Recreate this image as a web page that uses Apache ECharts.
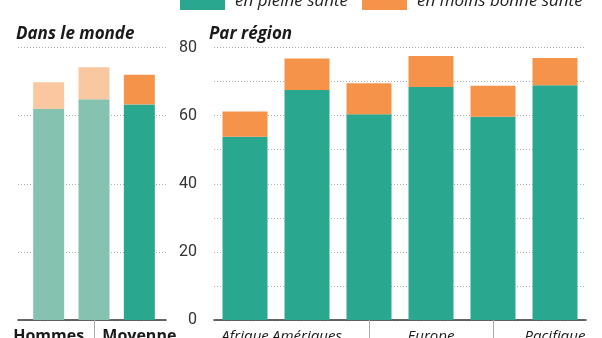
<!DOCTYPE html>
<html>
<head>
<meta charset="utf-8">
<script src="https://cdn.jsdelivr.net/npm/echarts@6/dist/echarts.min.js"></script>
<style>
html,body{margin:0;padding:0;background:#fff;}
#chart{width:602px;height:338px;}
</style>
</head>
<body>
<div id="chart"></div>
<script>
// Data (years of life)
const worldCategories = ['Hommes', 'Femmes', 'Moyenne'];
const worldHealthy = [62.0, 64.8, 63.3];
const worldLessHealthy = [7.8, 9.4, 8.7];

const regionCategories = ['Afrique', 'Amériques', 'Asie du Sud-Est', 'Europe', 'Méditerranée orientale', 'Pacifique\noccidental'];
const regionHealthy = [53.8, 67.5, 60.4, 68.4, 59.7, 68.9];
const regionLessHealthy = [7.4, 9.3, 9.1, 9.1, 9.1, 8.0];

const yTickLabels = [0, 20, 40, 60, 80];
const legendNames = ['en pleine santé', 'en moins bonne santé'];
const titles = ['Dans le monde', 'Par région'];

const GREEN = '#2aa78f', ORANGE = '#f6934a';
const GREEN_LIGHT = '#85c3b0', ORANGE_LIGHT = '#f9c8a0';
const FONT = 'Open Sans';
const fadedIdx = [0, 1];
const staggerWorld = [1];
const staggerRegion = [2, 4];

const chart = echarts.init(document.getElementById('chart'), null, {renderer: 'canvas'});
const dotted = {show: true, lineStyle: {color: '#b0b0b0', type: [1, 2], width: 1}};
const gridBase = {top: 47.5, height: 272.5, containLabel: false, outerBoundsMode: 'none'};

const option = {
  animation: false,
  title: [
    {text: titles[0], left: 16, top: 26, padding: 0, textStyle: {fontFamily: FONT, fontSize: 17, fontWeight: 'bold', fontStyle: 'italic', color: '#1a1a1a'}},
    {text: titles[1], left: 209, top: 26, padding: 0, textStyle: {fontFamily: FONT, fontSize: 17, fontWeight: 'bold', fontStyle: 'italic', color: '#1a1a1a'}}
  ],
  legend: {
    left: 180, top: -8, padding: 0, width: 422, itemWidth: 45, itemHeight: 18, itemGap: 14, icon: 'rect',
    data: legendNames,
    textStyle: {fontFamily: FONT, fontSize: 17, fontStyle: 'italic', color: '#222', padding: [0, 0, 0, 5]}
  },
  grid: [
    Object.assign({left: 26, width: 136}, gridBase),
    Object.assign({left: 214, width: 372}, gridBase),
    Object.assign({left: 18, width: 148}, gridBase)
  ],
  xAxis: [
    {type: 'category', gridIndex: 0, data: worldCategories,
     axisLine: {show: false},
     axisTick: {show: true, alignWithLabel: true, length: 18, interval: (i) => staggerWorld.includes(i), lineStyle: {color: '#aaa'}},
     axisLabel: {interval: 0, margin: 6, fontFamily: FONT, fontSize: 16, fontWeight: 'bold', color: '#1a1a1a', lineHeight: 21,
       formatter: (v, i) => staggerWorld.includes(i) ? '\n' + v : v}},
    {type: 'category', gridIndex: 1, data: regionCategories,
     axisLine: {show: true, lineStyle: {color: '#333', width: 1.5}},
     axisTick: {show: true, alignWithLabel: true, length: 18, interval: (i) => staggerRegion.includes(i), lineStyle: {color: '#aaa'}},
     axisLabel: {interval: 0, margin: 6, fontFamily: FONT, fontSize: 15, fontStyle: 'italic', color: '#1a1a1a', lineHeight: 21,
       formatter: (v, i) => staggerRegion.includes(i) ? '\n' + v : v}},
    {type: 'category', gridIndex: 2, data: worldCategories,
     axisLine: {show: true, lineStyle: {color: '#333', width: 1.5}},
     axisTick: {show: false}, axisLabel: {show: false}}
  ],
  yAxis: [
    {type: 'value', gridIndex: 0, min: 0, max: 80, show: false},
    {type: 'value', gridIndex: 1, min: 0, max: 80, interval: 10,
     axisLine: {show: false}, axisTick: {show: false},
     axisLabel: {margin: 17, fontFamily: 'Roboto', fontSize: 16, color: '#333',
       formatter: (v) => yTickLabels.includes(v) ? String(v) : ''},
     splitLine: dotted},
    {type: 'value', gridIndex: 2, min: 0, max: 80, interval: 20,
     axisLine: {show: false}, axisTick: {show: false}, axisLabel: {show: false},
     splitLine: dotted}
  ],
  series: [
    {name: legendNames[0], type: 'bar', xAxisIndex: 0, yAxisIndex: 0, stack: 'w', barWidth: 31, z: 3,
     itemStyle: {color: GREEN},
     data: worldHealthy.map((v, i) => fadedIdx.includes(i) ? {value: v, itemStyle: {color: GREEN_LIGHT}} : v)},
    {name: legendNames[1], type: 'bar', xAxisIndex: 0, yAxisIndex: 0, stack: 'w', barWidth: 31, z: 3,
     itemStyle: {color: ORANGE},
     data: worldLessHealthy.map((v, i) => fadedIdx.includes(i) ? {value: v, itemStyle: {color: ORANGE_LIGHT}} : v)},
    {name: legendNames[0], type: 'bar', xAxisIndex: 1, yAxisIndex: 1, stack: 'r', barWidth: 45, z: 3,
     itemStyle: {color: GREEN}, data: regionHealthy},
    {name: legendNames[1], type: 'bar', xAxisIndex: 1, yAxisIndex: 1, stack: 'r', barWidth: 45, z: 3,
     itemStyle: {color: ORANGE}, data: regionLessHealthy}
  ]
};
chart.setOption(option);
</script>
</body>
</html>
